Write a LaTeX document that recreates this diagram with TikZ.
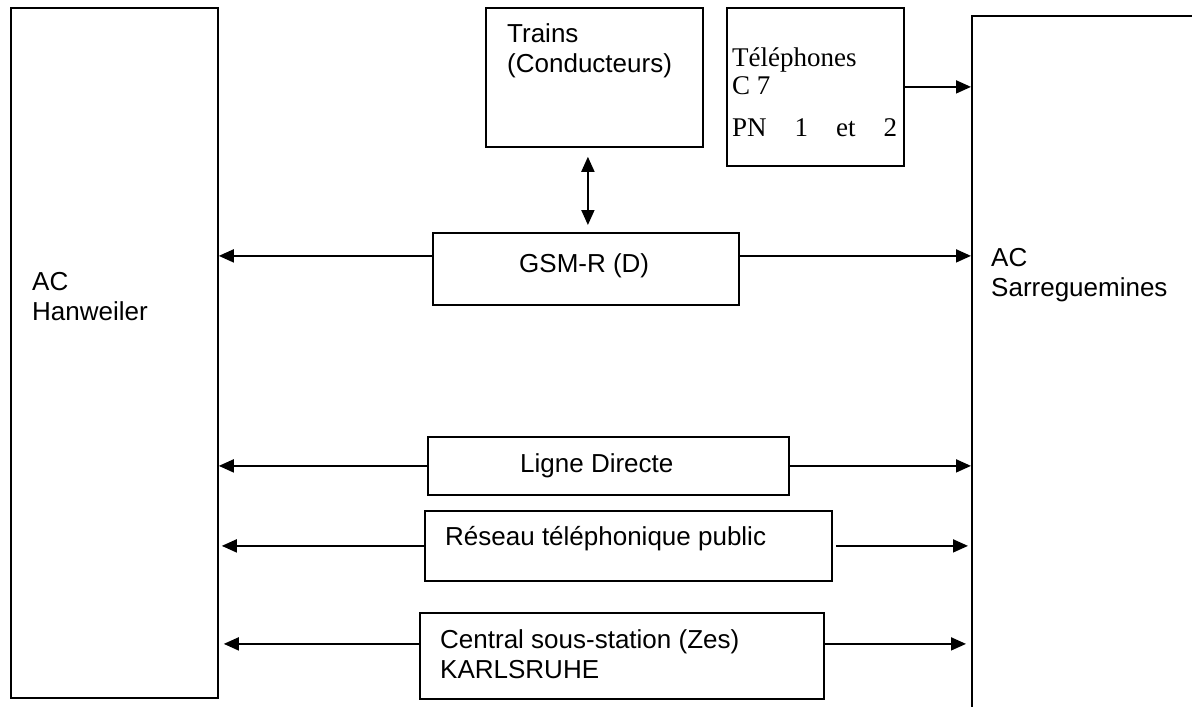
\documentclass[tikz,border=0pt]{standalone}
\usepackage{fontspec}
\setmainfont{Liberation Sans}
\newfontfamily\tms{Liberation Serif}
\usetikzlibrary{arrows.meta}
\begin{document}
\begin{tikzpicture}[x=1pt,y=-1pt,
  box/.style={draw, line width=1.8pt, rectangle, inner sep=0pt, anchor=north west},
  lbl/.style={anchor=base west, inner sep=0pt, font=\fontsize{26}{30}\selectfont},
  tlbl/.style={anchor=base west, inner sep=0pt, font=\tms\fontsize{27}{30}\selectfont},
  link/.style={line width=1.8pt, -{Triangle[length=15pt,width=13pt]}},
  both/.style={line width=1.8pt, {Triangle[length=15pt,width=13pt]}-{Triangle[length=15pt,width=13pt]}}]
\useasboundingbox (0,0) rectangle (1192,707);

% control centres
\node[box, minimum width=207pt, minimum height=690pt] (han) at (10,7) {};
\node[box, minimum width=300pt, minimum height=760pt] (sar) at (971,15) {};

% links
\node[box, minimum width=217pt, minimum height=139pt] (trains) at (485,7) {};
\node[box, minimum width=177pt, minimum height=158pt] (tel) at (726,7) {};
\node[box, minimum width=306pt, minimum height=72pt] (gsm) at (432,232) {};
\node[box, minimum width=361pt, minimum height=58pt] (ligne) at (427,436) {};
\node[box, minimum width=407pt, minimum height=70pt] (reseau) at (424,510) {};
\node[box, minimum width=404pt, minimum height=86pt] (central) at (419,612) {};

% labels
\node[lbl] (hanA) at (32,290) {AC};
\node[lbl] (hanB) at (32,320) {Hanweiler};
\node[lbl] (sarA) at (991,266) {AC};
\node[lbl] (sarB) at (991,296) {Sarreguemines};
\node[lbl] (trA) at (507,42) {Trains};
\node[lbl] (trB) at (507,72) {(Conducteurs)};
\node[tlbl] (telA) at (732,66) {Téléphones};
\node[tlbl] (telB) at (732,94) {C 7};
\node[tlbl] (telC) at (732,136) {\makebox[165pt][s]{PN\hfill 1\hfill et\hfill 2}};
\node[lbl] (gsmT) at (519,272) {GSM-R (D)};
\node[lbl] (ligT) at (520,472) {Ligne Directe};
\node[lbl] (resT) at (445,545) {Réseau téléphonique public};
\node[lbl] (cenA) at (440,648) {Central sous-station (Zes)};
\node[lbl] (cenB) at (440,678) {KARLSRUHE};

% connectors
\coordinate (v) at ([xshift=2pt]gsm.north);
\draw[both, shorten <=9pt, shorten >=7pt] (trains.south -| v) -- (v);
\draw[link] (tel.east) -- (tel.east -| sar.west);
\draw[link] ([yshift=13pt]gsm.west) -- ([yshift=13pt]gsm.west -| han.east);
\draw[link] ([yshift=13pt]gsm.east) -- ([yshift=13pt]gsm.east -| sar.west);
\draw[link] (ligne.west) -- (ligne.west -| han.east);
\draw[link] (ligne.east) -- (ligne.east -| sar.west);
\draw[link, shorten >=3pt] (reseau.west) -- (reseau.west -| han.east);
\draw[link, shorten <=3pt, shorten >=3pt] (reseau.east) -- (reseau.east -| sar.west);
\draw[link, shorten >=5pt] ([yshift=12pt]central.west) -- ([yshift=12pt]central.west -| han.east);
\draw[link, shorten >=5pt] ([yshift=12pt]central.east) -- ([yshift=12pt]central.east -| sar.west);
\end{tikzpicture}
\end{document}
